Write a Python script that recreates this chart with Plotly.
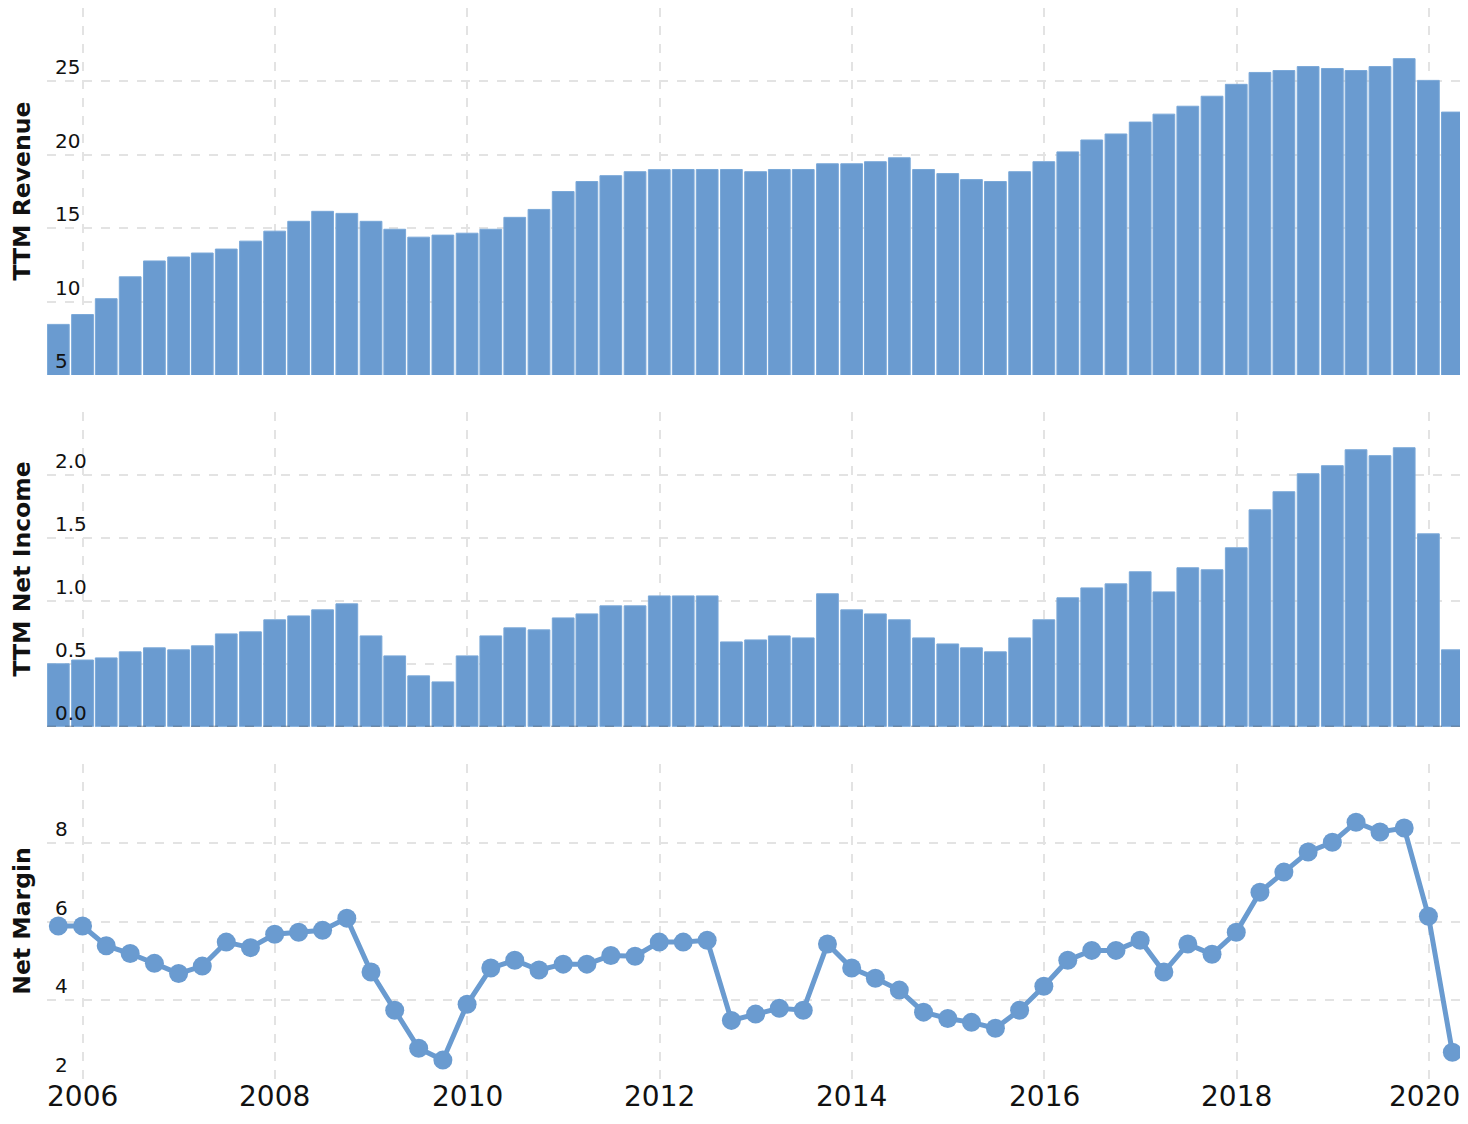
import plotly.graph_objects as go
from plotly.subplots import make_subplots

# quarter end dates
quarters = [
    "2005-09-30", "2005-12-31",
    "2006-03-31", "2006-06-30", "2006-09-30", "2006-12-31",
    "2007-03-31", "2007-06-30", "2007-09-30", "2007-12-31",
    "2008-03-31", "2008-06-30", "2008-09-30", "2008-12-31",
    "2009-03-31", "2009-06-30", "2009-09-30", "2009-12-31",
    "2010-03-31", "2010-06-30", "2010-09-30", "2010-12-31",
    "2011-03-31", "2011-06-30", "2011-09-30", "2011-12-31",
    "2012-03-31", "2012-06-30", "2012-09-30", "2012-12-31",
    "2013-03-31", "2013-06-30", "2013-09-30", "2013-12-31",
    "2014-03-31", "2014-06-30", "2014-09-30", "2014-12-31",
    "2015-03-31", "2015-06-30", "2015-09-30", "2015-12-31",
    "2016-03-31", "2016-06-30", "2016-09-30", "2016-12-31",
    "2017-03-31", "2017-06-30", "2017-09-30", "2017-12-31",
    "2018-03-31", "2018-06-30", "2018-09-30", "2018-12-31",
    "2019-03-31", "2019-06-30", "2019-09-30", "2019-12-31",
    "2020-03-31",
]

ttm_revenue = [
    8.45, 9.12,
    10.20, 11.69, 12.77, 13.04,
    13.31, 13.58, 14.12, 14.80,
    15.47, 16.15, 16.01, 15.47,
    14.93, 14.39, 14.53, 14.66,
    14.93, 15.74, 16.28, 17.50,
    18.18, 18.58, 18.85, 18.99,
    19.00, 19.00, 19.00, 18.85,
    19.00, 19.00, 19.39, 19.39,
    19.53, 19.80, 19.00, 18.72,
    18.31, 18.18, 18.85, 19.53,
    20.20, 21.01, 21.42, 22.23,
    22.77, 23.31, 23.99, 24.80,
    25.61, 25.74, 26.01, 25.88,
    25.74, 26.01, 26.55, 25.07,
    22.91,
]

ttm_net_income = [
    0.500, 0.530,
    0.547, 0.595, 0.627, 0.611,
    0.643, 0.738, 0.754, 0.850,
    0.881, 0.929, 0.977, 0.722,
    0.563, 0.404, 0.356, 0.563,
    0.722, 0.786, 0.770, 0.865,
    0.897, 0.961, 0.961, 1.040,
    1.040, 1.040, 0.674, 0.690,
    0.722, 0.706, 1.057, 0.929,
    0.897, 0.850, 0.706, 0.658,
    0.627, 0.595, 0.706, 0.850,
    1.025, 1.104, 1.136, 1.232,
    1.072, 1.264, 1.248, 1.423,
    1.725, 1.869, 2.012, 2.076,
    2.203, 2.156, 2.219, 1.534,
    0.611,
]

net_margin = [
    5.89, 5.89,
    5.39, 5.19, 4.94, 4.68,
    4.87, 5.48, 5.34, 5.68,
    5.73, 5.78, 6.09, 4.72,
    3.75, 2.78, 2.48, 3.90,
    4.82, 5.02, 4.77, 4.92,
    4.92, 5.14, 5.12, 5.48,
    5.48, 5.53, 3.49, 3.65,
    3.80, 3.75, 5.43, 4.82,
    4.56, 4.26, 3.70, 3.54,
    3.44, 3.29, 3.75, 4.36,
    5.02, 5.27, 5.27, 5.53,
    4.72, 5.43, 5.17, 5.73,
    6.75, 7.26, 7.77, 8.02,
    8.53, 8.28, 8.38, 6.14,
    2.68,
]

# year labels under the bottom panel
year_ticks = ['2006', '2008', '2010', '2012', '2014', '2016', '2018', '2020']

# gridline values and the labels printed above them
rev_ticks = [5, 10, 15, 20, 25, 30]
rev_labels = ['5', '10', '15', '20', '25']
ni_ticks = [0, 0.5, 1.0, 1.5, 2.0, 2.5]
ni_labels = ['0.0', '0.5', '1.0', '1.5', '2.0']
nm_ticks = [2, 4, 6, 8, 10]
nm_labels = ['2', '4', '6', '8']

BLUE = '#6a9bd0'
GRID = '#e3e3e3'
FONT = 'DejaVu Sans'

fig = make_subplots(rows=3, cols=1, shared_xaxes=True)

bar_width = 82.6 * 86400000  # ms

fig.add_trace(go.Bar(x=quarters, y=ttm_revenue, width=bar_width,
                     marker=dict(color=BLUE, line=dict(color='#7aa8d8', width=1)),
                     name='TTM Revenue'), row=1, col=1)
fig.add_trace(go.Bar(x=quarters, y=ttm_net_income, width=bar_width,
                     marker=dict(color=BLUE, line=dict(color='#7aa8d8', width=1)),
                     name='TTM Net Income'), row=2, col=1)
fig.add_trace(go.Scatter(x=quarters, y=net_margin, mode='lines+markers',
                         line=dict(color=BLUE, width=5),
                         marker=dict(color=BLUE, size=19),
                         name='Net Margin'), row=3, col=1)

fig.update_xaxes(
    type='date',
    range=['2005-08-18', '2020-04-29'],
    tick0='2006-01-01', dtick='M24', showticklabels=False,
    showgrid=True, gridcolor=GRID, gridwidth=2, griddash='9px,9px',
    zeroline=False, showline=False, ticks='', automargin=False,
)


def yaxis_style(tickvals, rng, domain):
    return dict(
        domain=domain, range=rng,
        tickvals=tickvals, showticklabels=False,
        showgrid=True, gridcolor=GRID, gridwidth=2, griddash='9px,9px',
        zeroline=False, showline=False, ticks='', automargin=False,
    )


# page has an 8px body margin, so the plot box is placed 8px up/left of the target
domains = [[0.6573, 1.0], [0.3290, 0.6224], [0.0, 0.2938]]
fig.update_layout(
    yaxis=yaxis_style(rev_ticks, [5, 30], domains[0]),
    yaxis2=yaxis_style(ni_ticks, [0, 2.5], domains[1]),
    yaxis3=yaxis_style(nm_ticks, [2, 10], domains[2]),
)

# rotated bold axis titles in the left margin
for title, dom in zip(['TTM Revenue', 'TTM Net Income', 'Net Margin'], domains):
    fig.add_annotation(x=0, y=(dom[0] + dom[1]) / 2, xref='paper', yref='paper',
                       text=title, textangle=-90, showarrow=False,
                       xanchor='center', yanchor='middle', xshift=-25,
                       font=dict(family=FONT, size=23.5, color='#111', weight='bold'))

# tick labels sit just above their gridline, inside the plot
for yref, vals, labels in [('y', rev_ticks, rev_labels),
                           ('y2', ni_ticks, ni_labels),
                           ('y3', nm_ticks, nm_labels)]:
    xref = 'x domain' if yref == 'y' else 'x%s domain' % yref[1:]
    for v, t in zip(vals, labels):
        fig.add_annotation(x=0, y=v, xref=xref, yref=yref, text=t,
                           showarrow=False, xanchor='left', yanchor='bottom',
                           xshift=6, yshift=0,
                           font=dict(family=FONT, size=20, color='#111'))

# year labels; the last one is nudged left so it stays inside the page
for i, yr in enumerate(year_ticks):
    fig.add_annotation(x=yr + '-01-01', y=0, xref='x3', yref='y3 domain', text=yr,
                       showarrow=False, xanchor='center', yanchor='top',
                       xshift=-4 if i == len(year_ticks) - 1 else 0, yshift=0,
                       borderpad=0,
                       font=dict(family=FONT, size=28, color='#111'))

# darker dashed baseline under the net income bars
fig.add_shape(type='line', xref='x2 domain', yref='y2', x0=0, x1=1, y0=0, y1=0,
              line=dict(color='rgba(70,80,95,0.55)', width=2, dash='9px,9px'), layer='above')

fig.update_layout(
    width=1452, height=1108,
    margin=dict(l=39, r=0, t=0, b=37),
    plot_bgcolor='white', paper_bgcolor='white',
    showlegend=False,
    font=dict(family=FONT),
)

fig.write_html("out.html")
